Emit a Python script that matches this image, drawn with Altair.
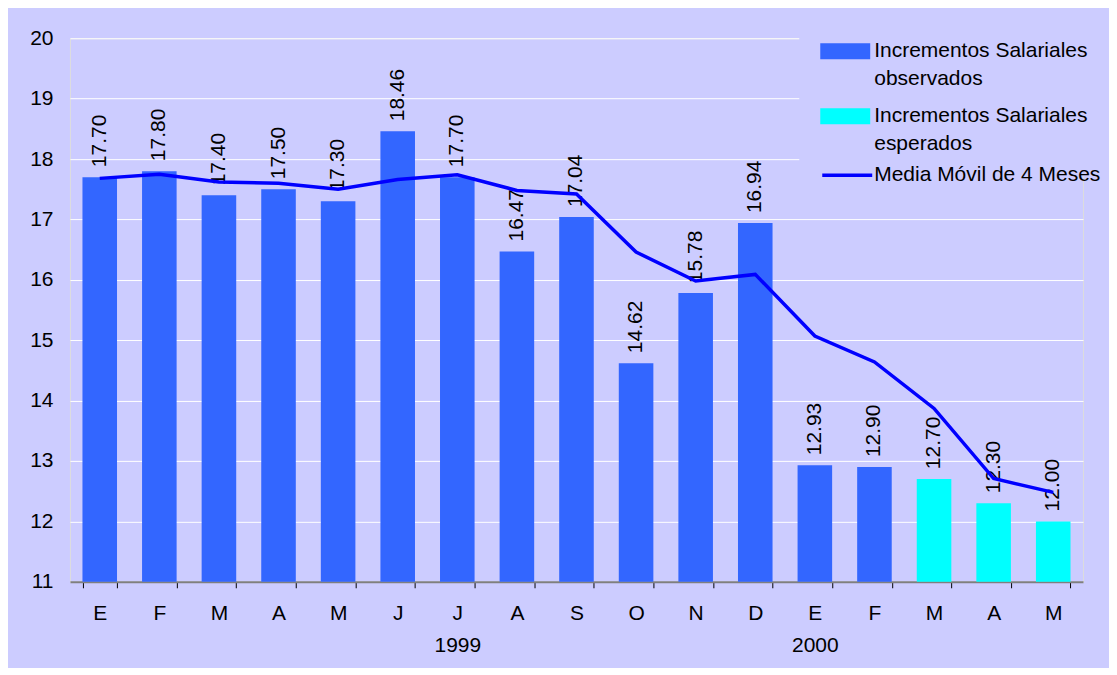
import altair as alt
import pandas as pd

months = ["E", "F", "M", "A", "M", "J", "J", "A", "S", "O", "N", "D", "E", "F", "M", "A", "M"]
year_marks = ["", "", "", "", "", "", "1999", "", "", "", "", "", "2000", "", "", "", ""]
values = [17.70, 17.80, 17.40, 17.50, 17.30, 18.46, 17.70, 16.47, 17.04, 14.62, 15.78, 16.94,
          12.93, 12.90, 12.70, 12.30, 12.00]
moving_avg = [17.68, 17.75, 17.62, 17.60, 17.50, 17.66, 17.74, 17.48, 17.42, 16.46, 15.98, 16.09,
              15.07, 14.64, 13.87, 12.71, 12.48]
obs_name = "Incrementos Salariales|observados"
esp_name = "Incrementos Salariales|esperados"
ma_name = "Media Móvil de 4 Meses"
series = [obs_name] * 14 + [esp_name] * 3

keys = [f"{i:02d}|{m}|{y}" for i, (m, y) in enumerate(zip(months, year_marks))]

df = pd.DataFrame({
    "key": keys,
    "valor": values,
    "serie": series,
    "media": moving_avg,
    "mm": [ma_name] * len(keys),
})

FONT = "Liberation Sans"
FS = 21
W, H = 1014, 544

x_enc = alt.X(
    "key:N",
    sort=keys,
    scale=alt.Scale(paddingInner=0.42, paddingOuter=0.21),
    axis=alt.Axis(
        title=None,
        labelAngle=0,
        labelExpr="split(datum.value,'|')[2] != '' ? [split(datum.value,'|')[1], split(datum.value,'|')[2]] : split(datum.value,'|')[1]",
        labelFont=FONT,
        labelFontSize=FS,
        labelColor="#000000",
        labelPadding=15,
        labelLineHeight=32,
        labelBaseline="top",
        tickBand="extent",
        tickSize=6,
        tickColor="#000000",
        tickWidth=1,
        domainColor="#7f7f7f",
        domainWidth=2,
        grid=False,
    ),
)

y_scale = alt.Scale(domain=[11, 20], zero=False, nice=False)

bars = alt.Chart(df).mark_bar().encode(
    x=x_enc,
    y=alt.Y(
        "valor:Q",
        scale=y_scale,
        axis=alt.Axis(
            title=None,
            values=list(range(11, 21)),
            format="d",
            labelFont=FONT,
            labelFontSize=FS,
            labelColor="#000000",
            labelPadding=17,
            ticks=False,
            domain=False,
            grid=True,
            gridColor="#FFFFFF",
            gridWidth=1,
        ),
    ),
    y2=alt.datum(11),
    fill=alt.Fill(
        "serie:N",
        scale=alt.Scale(domain=[obs_name, esp_name], range=["#3366FF", "#00FFFF"]),
        legend=alt.Legend(
            title=None,
            orient="none",
            legendX=730,
            legendY=-27,
            padding=21,
            fillColor="#CCCCFF",
            symbolType="M-1,-0.56H1V0.08H-1Z",
            symbolSize=2500,
            symbolStrokeWidth=0,
            labelExpr="split(datum.label, '|')",
            labelFont=FONT,
            labelFontSize=FS,
            labelColor="#000000",
            labelBaseline="alphabetic",
            labelOffset=4,
            labelLimit=400,
            rowPadding=8,
        ),
    ),
)

labels = alt.Chart(df).mark_text(
    angle=270, align="left", baseline="middle", dx=10,
    font=FONT, fontSize=FS, color="#000000",
).encode(
    x=alt.X("key:N", sort=keys),
    y=alt.Y("valor:Q", scale=y_scale),
    text=alt.Text("valor:Q", format=".2f"),
)

line = alt.Chart(df).mark_line(strokeWidth=3.5).encode(
    x=alt.X("key:N", sort=keys),
    y=alt.Y("media:Q", scale=y_scale),
    stroke=alt.Stroke(
        "mm:N",
        scale=alt.Scale(domain=[ma_name], range=["#0000FF"]),
        legend=alt.Legend(
            title=None,
            orient="none",
            legendX=746,
            legendY=105,
            padding=5,
            symbolType="stroke",
            symbolSize=2500,
            symbolStrokeWidth=3.5,
            labelFont=FONT,
            labelFontSize=FS,
            labelColor="#000000",
            labelOffset=0,
            labelLimit=400,
        ),
    ),
)

chart = alt.layer(bars, labels, line).properties(
    width=W,
    height=H,
    autosize=alt.AutoSizeParams(type="none"),
    padding={"left": 62, "top": 30, "right": 26, "bottom": 86},
    background="#CCCCFF",
).configure_view(stroke=None).configure(
    style={"guide-label": {"lineHeight": 28}}
)

chart.save("out.html", embed_options={"renderer": "svg", "actions": False})
